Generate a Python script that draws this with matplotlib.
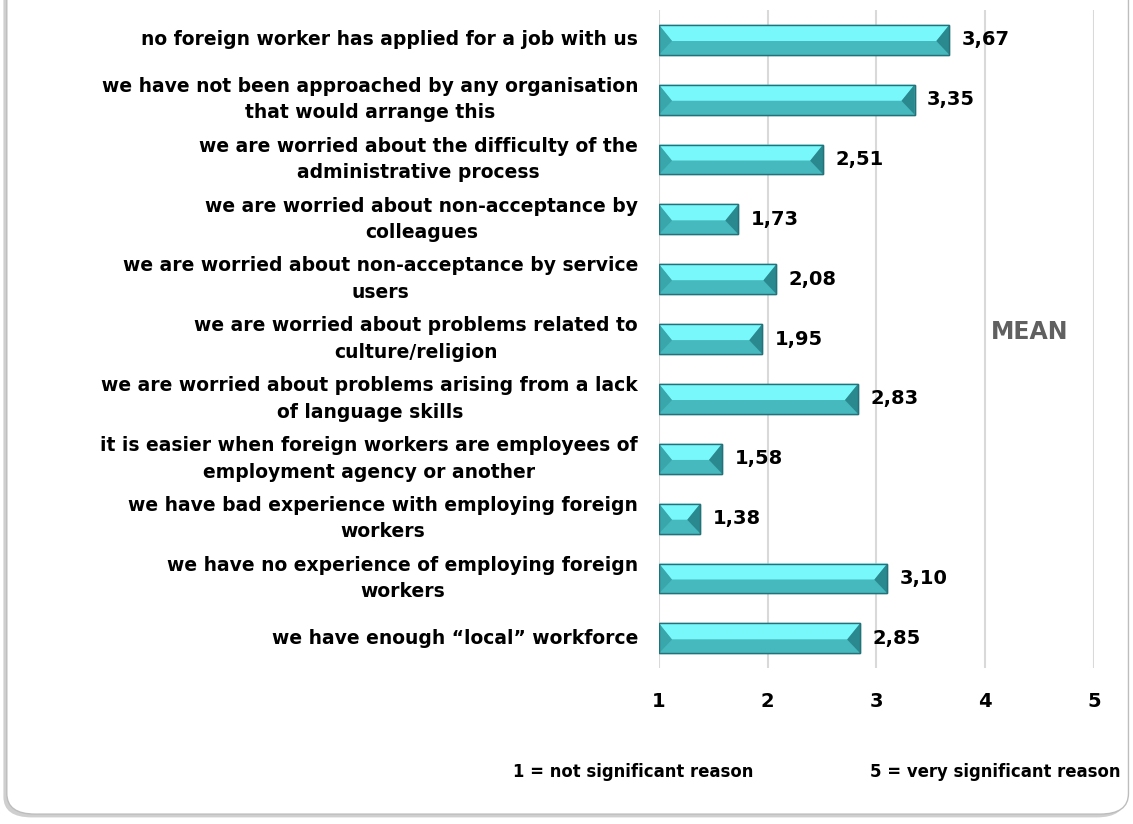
import matplotlib.pyplot as plt
from matplotlib.patches import Polygon, FancyBboxPatch

plt.rcParams['font.family'] = ['DejaVu Sans']
plt.rcParams['font.weight'] = 'bold'

reasons = [
    "no foreign worker has applied for a job with us",
    "we have not been approached by any organisation\nthat would arrange this",
    "we are worried about the difficulty of the\nadministrative process",
    "we are worried about non-acceptance by\ncolleagues",
    "we are worried about non-acceptance by service\nusers",
    "we are worried about problems related to\nculture/religion",
    "we are worried about problems arising from a lack\nof language skills",
    "it is easier when foreign workers are employees of\nemployment agency or another",
    "we have bad experience with employing foreign\nworkers",
    "we have no experience of employing foreign\nworkers",
    "we have enough \u201clocal\u201d workforce",
]
means = [3.67, 3.35, 2.51, 1.73, 2.08, 1.95, 2.83, 1.58, 1.38, 3.10, 2.85]
ticks = [1, 2, 3, 4, 5]

fig = plt.figure(figsize=(11.33, 8.24), dpi=100)

# slide frame with a soft shadow (left / bottom)
shadow = FancyBboxPatch((0.003, 0.008), 0.99, 1.2, boxstyle="round,pad=0,rounding_size=0.025",
                        transform=fig.transFigure, facecolor='#cfcfcf', edgecolor='none', zorder=-2)
frame = FancyBboxPatch((0.006, 0.012), 0.99, 1.2, boxstyle="round,pad=0,rounding_size=0.025",
                       transform=fig.transFigure, facecolor='white', edgecolor='#bdbdbd',
                       linewidth=1.0, zorder=-1)
fig.patches.extend([shadow, frame])

ax = fig.add_axes([0.5816, 0.189, 0.384, 0.799])
ax.set_facecolor('none')

pos = list(range(len(reasons)))
h = 0.5
dx = 0.12
start = 1

# base bars
ax.barh(pos, [m - start for m in means], left=start, height=h, color='#4bbec2',
        edgecolor='#2a7f83', linewidth=1.0, zorder=3)

# bevel faces built from the bar values
for y, v in zip(pos, means):
    top, mid, bot = y - h / 2, y + 0.02, y + h / 2
    faces = [
        ([(start, top), (v, top), (v - dx, mid), (start + dx, mid)], '#78f8fb'),
        ([(start + dx, mid), (v - dx, mid), (v, bot), (start, bot)], '#46b9be'),
        ([(start, top), (start + dx, mid), (start, bot)], '#38a6ab'),
        ([(v, top), (v - dx, mid), (v, bot)], '#2a898e'),
    ]
    for pts, c in faces:
        ax.add_patch(Polygon(pts, closed=True, facecolor=c, edgecolor='none', zorder=4))
    ax.add_patch(Polygon([(start, top), (v, top), (v, bot), (start, bot)], closed=True,
                         facecolor='none', edgecolor='#23727a', linewidth=1.0, zorder=5))
    ax.annotate(f"{v:.2f}".replace('.', ','), (v, y), xytext=(9, 0), textcoords='offset points',
                ha='left', va='center', fontsize=14, fontweight='bold', color='black')

ax.set_xlim(1, 5)
ax.set_ylim(len(reasons) - 0.5, -0.5)
ax.set_xticks(ticks)
ax.set_xticklabels([str(t) for t in ticks], fontsize=14, fontweight='bold')
ax.set_yticks(pos)
ax.set_yticklabels(reasons, fontsize=13.5, fontweight='bold', linespacing=1.5,
                   multialignment='center')
for lab in ax.get_yticklabels():
    lab.set_verticalalignment('center')
ax.tick_params(axis='both', length=0)
ax.tick_params(axis='x', pad=17)
ax.tick_params(axis='y', pad=15)
for s in ax.spines.values():
    s.set_visible(False)
ax.grid(axis='x', color='#d9d9d9', linewidth=1.5, zorder=1)
ax.set_axisbelow(True)

fig.text(1030 / 1133, 1 - 332 / 824, "MEAN", ha='center', va='center', fontsize=17,
         fontweight='bold', color='#606060')
fig.text(633 / 1133, 1 - 772 / 824, "1 = not significant reason", ha='center', va='center',
         fontsize=11.9, fontweight='bold')
fig.text(995 / 1133, 1 - 772 / 824, "5 = very significant reason", ha='center', va='center',
         fontsize=11.9, fontweight='bold')

fig.savefig('out.png', dpi=100)
